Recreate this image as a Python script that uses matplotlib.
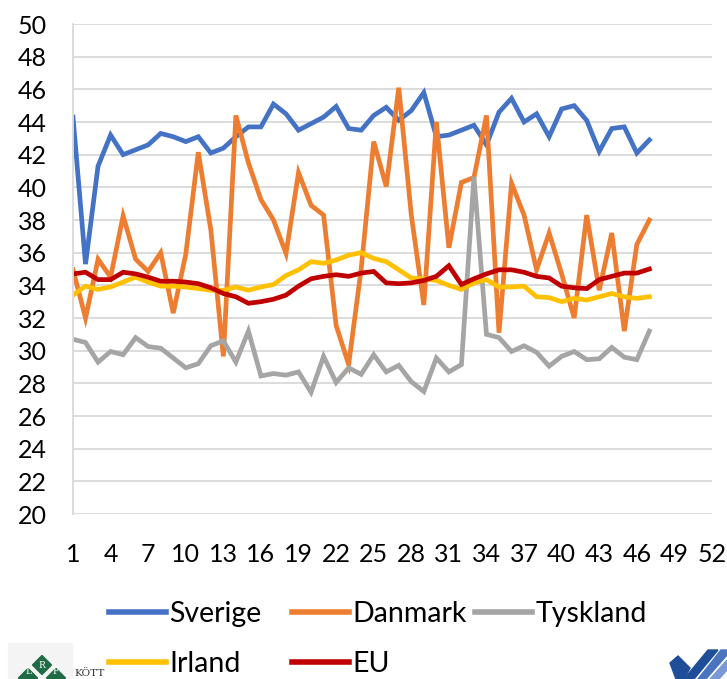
import numpy as np
import matplotlib
matplotlib.use("Agg")
import matplotlib.pyplot as plt
from matplotlib.patches import Polygon, Rectangle

plt.rcParams['font.family'] = ['Lato', 'DejaVu Sans']

# weekly values, week 1..47
weeks = np.arange(1, 48)
sverige = [44.3, 35.3, 41.3, 43.2, 42.0, 42.3, 42.6, 43.3, 43.1, 42.8,
           43.1, 42.1, 42.4, 43.1, 43.7, 43.7, 45.1, 44.5, 43.5, 43.9,
           44.3, 44.95, 43.6, 43.5, 44.4, 44.9, 44.1, 44.7, 45.8, 43.1,
           43.2, 43.5, 43.8, 42.6, 44.6, 45.45, 44.0, 44.5, 43.1, 44.8,
           45.0, 44.1, 42.2, 43.6, 43.7, 42.1, 42.9]
danmark = [34.95, 32.0, 35.6, 34.5, 38.25, 35.6, 34.85, 36.0, 32.3, 35.9,
           42.15, 37.4, 29.65, 44.4, 41.5, 39.25, 38.0, 35.95, 40.9, 38.9,
           38.3, 31.55, 29.15, 35.0, 42.8, 40.05, 46.1, 38.3, 32.8, 44.0,
           36.3, 40.3, 40.6, 44.4, 31.1, 40.25, 38.3, 34.95, 37.2, 34.7,
           32.0, 38.3, 33.7, 37.2, 31.2, 36.5, 38.0]
tyskland = [30.7, 30.5, 29.3, 29.95, 29.75, 30.8, 30.25, 30.15, 29.55, 28.95,
            29.2, 30.3, 30.6, 29.3, 31.2, 28.45, 28.6, 28.5, 28.7, 27.45,
            29.65, 28.05, 28.95, 28.55, 29.75, 28.7, 29.1, 28.1, 27.5, 29.55,
            28.7, 29.15, 40.65, 31.0, 30.8, 29.95, 30.3, 29.9, 29.05, 29.65,
            29.95, 29.45, 29.5, 30.2, 29.6, 29.45, 31.2]
irland = [33.4, 33.95, 33.75, 33.9, 34.2, 34.5, 34.2, 33.95, 33.95, 33.9,
          33.8, 33.7, 33.7, 33.9, 33.7, 33.9, 34.05, 34.6, 34.95, 35.45,
          35.35, 35.55, 35.85, 36.0, 35.65, 35.45, 34.95, 34.45, 34.4, 34.3,
          34.0, 33.75, 34.15, 34.35, 33.9, 33.9, 33.95, 33.3, 33.25, 33.0,
          33.2, 33.1, 33.3, 33.5, 33.3, 33.2, 33.3]
eu = [34.7, 34.8, 34.35, 34.35, 34.8, 34.7, 34.5, 34.25, 34.25, 34.2,
      34.1, 33.85, 33.5, 33.3, 32.9, 33.0, 33.15, 33.4, 33.95, 34.4,
      34.55, 34.65, 34.55, 34.75, 34.85, 34.15, 34.1, 34.15, 34.3, 34.55,
      35.2, 34.05, 34.4, 34.7, 34.95, 34.95, 34.8, 34.55, 34.45, 33.95,
      33.85, 33.8, 34.35, 34.55, 34.75, 34.75, 35.0]

names = ['Sverige', 'Danmark', 'Tyskland', 'Irland', 'EU']
colors = ['#4472C4', '#ED7D31', '#A5A5A5', '#FFC000', '#C00000']
series = [sverige, danmark, tyskland, irland, eu]

W, H = 727, 679
fig = plt.figure(figsize=(W / 100, H / 100), dpi=100)
ax = fig.add_axes([73 / W, 1 - 514 / H, (712 - 73) / W, (514 - 24) / H])

lines = {}
for name, col, vals in zip(names, colors, series):
    ln, = ax.plot(weeks, vals, color=col, lw=3.4, solid_joinstyle='miter', label=name)
    lines[name] = ln

ax.set_xlim(1, 52)
ax.set_ylim(20, 50)
ax.set_xticks(np.arange(1, 53, 3))
ax.set_yticks(np.arange(20, 51, 2))
ax.grid(axis='y', color='#D9D9D9', lw=1.3)
ax.set_axisbelow(True)
for s in ['top', 'right', 'bottom']:
    ax.spines[s].set_visible(False)
ax.spines['left'].set_color('#D9D9D9')
ax.spines['left'].set_linewidth(1.3)
ax.tick_params(axis='both', length=0, labelsize=18, colors='black')
ax.tick_params(axis='y', pad=19)
ax.tick_params(axis='x', pad=21)

# legend, three columns placed like the original
cols = [(109, ['Sverige', 'Irland']), (292, ['Danmark', 'EU']), (475, ['Tyskland'])]
for xpx, keys in cols:
    leg = fig.legend([lines[k] for k in keys], keys, loc='upper left',
                     bbox_to_anchor=(xpx / W, 1 - 601 / H), frameon=False,
                     fontsize=20.5, handlelength=2.0, handletextpad=0.12,
                     borderpad=0, borderaxespad=0, labelspacing=0.85)
    for lh in leg.legend_handles:
        lh.set_linewidth(4)

# logos at the bottom edge (cropped in the original)
green = '#1E6B45'
fig.patches.append(Rectangle((8, 0), 64, 36, transform=None, color='#F4F4F4', zorder=0))
for cx, cy, letter in [(42, 665, 'R'), (28, 678, 'L'), (56, 678, 'F')]:
    d = 9.5
    poly = Polygon([(cx, H - cy + d), (cx + d, H - cy), (cx, H - cy - d), (cx - d, H - cy)],
                   closed=True, transform=None, color=green)
    fig.patches.append(poly)
    ty = cy if letter == 'R' else 672
    fig.text(cx / W, 1 - ty / H, letter, color='white', fontsize=6.5, ha='center', va='center',
             family='DejaVu Serif')
fig.text(74 / W, 1 - 669 / H, 'KÖTT', fontsize=7.5, family='DejaVu Serif', color='#333333',
         ha='left', va='top')

for pts, col in [([(670, 663), (678, 656), (690, 668), (684, 679), (676, 679)], '#1F4E99'),
                 ([(684, 679), (708, 650), (718, 650), (694, 679)], '#1F4E99'),
                 ([(698, 679), (721, 650), (727, 650), (727, 655), (706, 679)], '#4A74C0'),
                 ([(710, 679), (727, 660), (727, 670), (719, 679)], '#7A97D6')]:
    fig.patches.append(Polygon([(x, H - y) for x, y in pts], closed=True,
                               transform=None, color=col))

fig.savefig('out.png', dpi=100)
